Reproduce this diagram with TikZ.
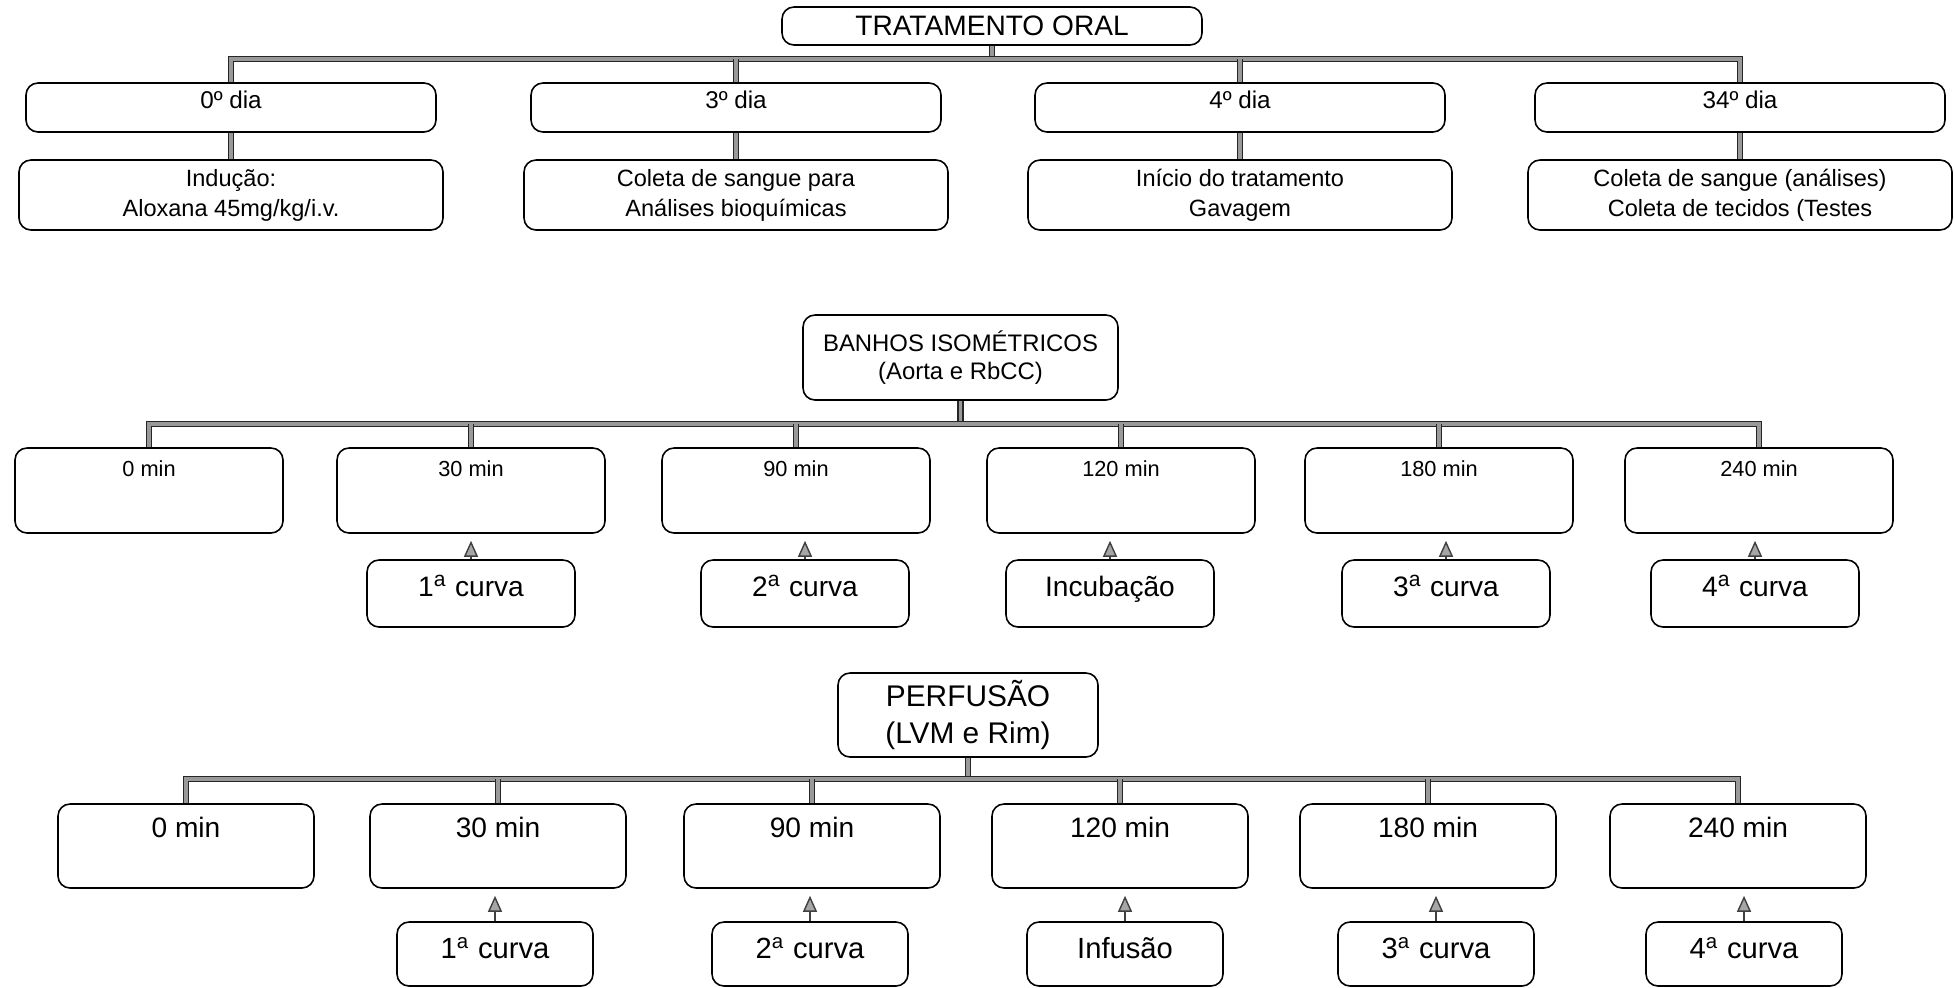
\documentclass[tikz,border=0pt]{standalone}
\usepackage{fontspec}
\setmainfont{Liberation Sans}
\usetikzlibrary{arrows.meta}

\tikzset{
    box/.style={draw, line width=0.45pt, rounded corners=0.12cm, align=center, inner sep=0pt},
    link/.style={draw=black!85, line width=0.45pt, double=gray!80, double distance=1pt},
    up/.style={draw=black!75, line width=0.4pt, shorten >=0.07cm,
        -{Triangle[length=0.16cm, width=0.14cm, fill=gray!70]}},
    daybox/.style={minimum width=4.1cm, inner ysep=0.10cm, text height=0.15cm, text depth=0.14cm,
        font=\fontsize{6.9}{9}\selectfont},
    infobox/.style={minimum width=4.24cm, minimum height=0.70cm, font=\fontsize{6.7}{8.5}\selectfont},
    bminbox/.style={minimum width=2.68cm, inner ysep=0.12cm, text height=0.16cm, text depth=0.45cm,
        font=\fontsize{6.2}{7.5}\selectfont},
    bcurvebox/.style={minimum width=2.08cm, inner ysep=0.14cm, text height=0.22cm, text depth=0.17cm,
        font=\fontsize{8}{10}\selectfont},
    pminbox/.style={minimum width=2.56cm, inner ysep=0.13cm, text height=0.2cm, text depth=0.38cm,
        font=\fontsize{8}{10}\selectfont},
    pcurvebox/.style={minimum width=1.96cm, inner ysep=0.14cm, text height=0.22cm, text depth=0.14cm,
        font=\fontsize{8.3}{10}\selectfont}
}

\begin{document}
\begin{tikzpicture}
    \useasboundingbox (0,0) rectangle (19.55,-9.87);

    % tratamento oral
    \node[box, minimum width=4.2cm, minimum height=0.38cm, font=\fontsize{8}{10}\selectfont]
        (oral) at (9.92,-0.26) {TRATAMENTO ORAL};
    \coordinate (oralbus) at (9.92,-0.59);

    \foreach \n/\x/\d/\t in {
        0/2.31/0º dia/{Indução:\\Aloxana 45mg/kg/i.v.},
        3/7.36/3º dia/{Coleta de sangue para\\Análises bioquímicas},
        4/12.40/4º dia/{Início do tratamento\\Gavagem},
        34/17.40/34º dia/{Coleta de sangue (análises)\\Coleta de tecidos (Testes}}
    {
        \node[box, daybox] (dia\n) at (\x,-1.075) {\d};
        \node[box, infobox] (info\n) at (\x,-1.95) {\t};
        \draw[link] (dia\n.south) -- (info\n.north);
    }

    \draw[link] (oral.south) -- (oralbus);
    \draw[link] (dia0.north) -- (dia0.north |- oralbus) -- (dia34.north |- oralbus) -- (dia34.north);
    \foreach \n in {3,4}
        \draw[link] (dia\n.north) -- (dia\n.north |- oralbus);

    % banhos isometricos
    \node[box, minimum width=3.15cm, minimum height=0.85cm, font=\fontsize{6.8}{8}\selectfont]
        (banhos) at (9.605,-3.575) {BANHOS ISOMÉTRICOS\\(Aorta e RbCC)};
    \coordinate (banhosbus) at (9.605,-4.24);

    \foreach \n/\x/\t in {
        1/1.49/0 min, 2/4.71/30 min, 3/7.96/90 min,
        4/11.21/120 min, 5/14.39/180 min, 6/17.59/240 min}
    {
        \node[box, bminbox] (bmin\n) at (\x,-4.905) {\t};
    }

    \draw[link] (banhos.south) -- (banhosbus);
    \draw[link] (bmin1.north) -- (bmin1.north |- banhosbus) -- (bmin6.north |- banhosbus) -- (bmin6.north);
    \foreach \n in {2,...,5}
        \draw[link] (bmin\n.north) -- (bmin\n.north |- banhosbus);

    \foreach \n/\m/\x/\t in {
        1/2/4.71/{1\textsuperscript{a} curva},
        2/3/8.05/{2\textsuperscript{a} curva},
        3/4/11.10/Incubação,
        4/5/14.46/{3\textsuperscript{a} curva},
        5/6/17.55/{4\textsuperscript{a} curva}}
    {
        \node[box, bcurvebox] (bcurva\n) at (\x,-5.935) {\t};
        \draw[up] (bcurva\n.north) -- (bcurva\n.north |- bmin\m.south);
    }

    % perfusao
    \node[box, minimum width=2.6cm, minimum height=0.84cm, font=\fontsize{8.5}{10.4}\selectfont]
        (perf) at (9.68,-7.15) {PERFUSÃO\\(LVM e Rim)};
    \coordinate (perfbus) at (9.68,-7.79);

    \foreach \n/\x/\t in {
        1/1.86/0 min, 2/4.98/30 min, 3/8.12/90 min,
        4/11.20/120 min, 5/14.28/180 min, 6/17.38/240 min}
    {
        \node[box, pminbox] (pmin\n) at (\x,-8.46) {\t};
    }

    \draw[link] (perf.south) -- (perfbus);
    \draw[link] (pmin1.north) -- (pmin1.north |- perfbus) -- (pmin6.north |- perfbus) -- (pmin6.north);
    \foreach \n in {2,...,5}
        \draw[link] (pmin\n.north) -- (pmin\n.north |- perfbus);

    \foreach \n/\m/\x/\t in {
        1/2/4.95/{1\textsuperscript{a} curva},
        2/3/8.10/{2\textsuperscript{a} curva},
        3/4/11.25/Infusão,
        4/5/14.36/{3\textsuperscript{a} curva},
        5/6/17.44/{4\textsuperscript{a} curva}}
    {
        \node[box, pcurvebox] (pcurva\n) at (\x,-9.54) {\t};
        \draw[up] (pcurva\n.north) -- (pcurva\n.north |- pmin\m.south);
    }

\end{tikzpicture}
\end{document}
